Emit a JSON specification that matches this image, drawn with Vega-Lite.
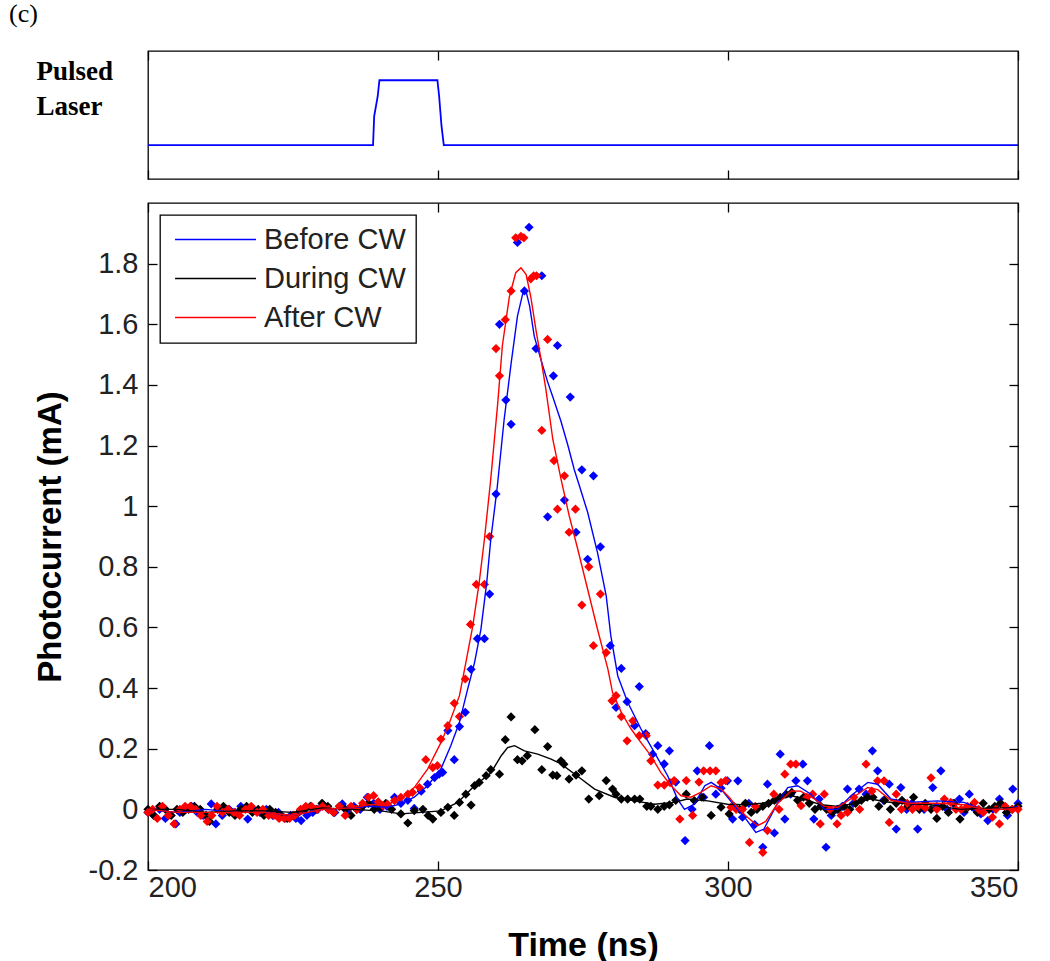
{
"$schema": "https://vega.github.io/schema/vega-lite/v6.json",
"padding": {"left": 8, "top": 0, "right": 10, "bottom": 5},
"background": "white",
"config": {
  "view": {"stroke": "#000", "strokeWidth": 1.3},
  "font": "Liberation Sans",
  "axis": {"domainColor": "#000", "domainWidth": 1.3, "tickColor": "#000", "tickWidth": 1.3, "labelColor": "#222", "labelFont": "Liberation Sans", "labelFontSize": 29, "titleColor": "#000", "grid": false},
  "legend": {"strokeWidth": 1.3}
},
"spacing": 20,
"datasets": {
"pulse": [{"t":200,"v":0},{"t":238.8,"v":0},{"t":239.0,"v":0.45},{"t":239.6,"v":0.75},{"t":239.9,"v":1},{"t":249.9,"v":1},{"t":250.2,"v":0.75},{"t":250.6,"v":0.3},{"t":251.0,"v":0},{"t":350,"v":0}],
"pts": [
{"s":"Before CW","t":200,"v":-0.01},{"s":"Before CW","t":201,"v":-0.02},{"s":"Before CW","t":202,"v":0.0},{"s":"Before CW","t":203,"v":-0.03},{"s":"Before CW","t":204.8,"v":-0.048},{"s":"Before CW","t":205.5,"v":-0.01},{"s":"Before CW","t":206.5,"v":0.0},{"s":"Before CW","t":207.5,"v":0.01},{"s":"Before CW","t":208.5,"v":-0.01},{"s":"Before CW","t":209.5,"v":-0.02},{"s":"Before CW","t":210.9,"v":0.018},{"s":"Before CW","t":211.7,"v":-0.048},{"s":"Before CW","t":212.8,"v":-0.02},{"s":"Before CW","t":214,"v":0.0},{"s":"Before CW","t":215,"v":-0.01},{"s":"Before CW","t":216,"v":0.01},{"s":"Before CW","t":217.2,"v":-0.032},{"s":"Before CW","t":218.2,"v":0.0},{"s":"Before CW","t":219.3,"v":-0.01},{"s":"Before CW","t":220.4,"v":0.0},{"s":"Before CW","t":221.5,"v":-0.02},{"s":"Before CW","t":222.5,"v":-0.01},{"s":"Before CW","t":223.6,"v":-0.03},{"s":"Before CW","t":224.6,"v":-0.02},{"s":"Before CW","t":225.5,"v":-0.03},{"s":"Before CW","t":226.4,"v":-0.037},{"s":"Before CW","t":227.4,"v":-0.02},{"s":"Before CW","t":228.4,"v":-0.01},{"s":"Before CW","t":229.3,"v":0.0},{"s":"Before CW","t":230.1,"v":0.018},{"s":"Before CW","t":231.1,"v":0.0},{"s":"Before CW","t":232.2,"v":-0.01},{"s":"Before CW","t":233.5,"v":0.018},{"s":"Before CW","t":234.5,"v":0.0},{"s":"Before CW","t":235.5,"v":0.01},{"s":"Before CW","t":236.6,"v":0.0},{"s":"Before CW","t":237.8,"v":0.04},{"s":"Before CW","t":238.9,"v":0.02},{"s":"Before CW","t":240,"v":0.0},{"s":"Before CW","t":241.2,"v":0.01},{"s":"Before CW","t":242.5,"v":0.04},{"s":"Before CW","t":243.6,"v":0.02},{"s":"Before CW","t":244.8,"v":0.03},{"s":"Before CW","t":245.9,"v":0.003},{"s":"Before CW","t":247.1,"v":0.06},{"s":"Before CW","t":248.2,"v":0.083},{"s":"Before CW","t":249.4,"v":0.105},{"s":"Before CW","t":250.2,"v":0.116},{"s":"Before CW","t":250.8,"v":0.122},{"s":"Before CW","t":251.7,"v":0.26},{"s":"Before CW","t":252.8,"v":0.164},{"s":"Before CW","t":253.7,"v":0.273},{"s":"Before CW","t":254.7,"v":0.32},{"s":"Before CW","t":255.7,"v":0.462},{"s":"Before CW","t":256.8,"v":0.563},{"s":"Before CW","t":258.0,"v":0.563},{"s":"Before CW","t":258.9,"v":0.71},{"s":"Before CW","t":260.0,"v":1.04},{"s":"Before CW","t":260.6,"v":1.6},{"s":"Before CW","t":261.7,"v":1.35},{"s":"Before CW","t":262.6,"v":1.27},{"s":"Before CW","t":263.7,"v":1.87},{"s":"Before CW","t":264.9,"v":1.71},{"s":"Before CW","t":265.7,"v":1.92},{"s":"Before CW","t":266.9,"v":1.52},{"s":"Before CW","t":267.9,"v":1.76},{"s":"Before CW","t":268.9,"v":0.965},{"s":"Before CW","t":269.9,"v":1.43},{"s":"Before CW","t":270.6,"v":1.53},{"s":"Before CW","t":271.8,"v":1.02},{"s":"Before CW","t":272.8,"v":1.36},{"s":"Before CW","t":273.8,"v":0.914},{"s":"Before CW","t":274.8,"v":1.12},{"s":"Before CW","t":275.8,"v":0.825},{"s":"Before CW","t":276.8,"v":1.10},{"s":"Before CW","t":278.0,"v":0.866},{"s":"Before CW","t":279.7,"v":0.54},{"s":"Before CW","t":280.7,"v":0.336},{"s":"Before CW","t":281.6,"v":0.465},{"s":"Before CW","t":282.6,"v":0.355},{"s":"Before CW","t":283.9,"v":0.276},{"s":"Before CW","t":284.7,"v":0.405},{"s":"Before CW","t":285.8,"v":0.25},{"s":"Before CW","t":287.0,"v":0.182},{"s":"Before CW","t":287.9,"v":0.21},{"s":"Before CW","t":289.0,"v":0.15},{"s":"Before CW","t":289.9,"v":0.193},{"s":"Before CW","t":291.0,"v":0.09},{"s":"Before CW","t":292.6,"v":-0.103},{"s":"Before CW","t":293.8,"v":0.0},{"s":"Before CW","t":294.7,"v":0.127},{"s":"Before CW","t":295.8,"v":0.04},{"s":"Before CW","t":296.8,"v":0.21},{"s":"Before CW","t":297.9,"v":0.05},{"s":"Before CW","t":298.8,"v":0.07},{"s":"Before CW","t":299.9,"v":0.094},{"s":"Before CW","t":300.8,"v":-0.032},{"s":"Before CW","t":301.7,"v":0.094},{"s":"Before CW","t":302.5,"v":-0.026},{"s":"Before CW","t":303.6,"v":0.02},{"s":"Before CW","t":304.6,"v":-0.05},{"s":"Before CW","t":306.0,"v":-0.125},{"s":"Before CW","t":306.8,"v":0.083},{"s":"Before CW","t":308.0,"v":-0.078},{"s":"Before CW","t":309.0,"v":0.182},{"s":"Before CW","t":309.8,"v":-0.032},{"s":"Before CW","t":310.8,"v":0.05},{"s":"Before CW","t":311.7,"v":0.094},{"s":"Before CW","t":312.9,"v":0.149},{"s":"Before CW","t":313.7,"v":0.094},{"s":"Before CW","t":314.8,"v":-0.032},{"s":"Before CW","t":315.7,"v":0.034},{"s":"Before CW","t":316.9,"v":-0.125},{"s":"Before CW","t":317.8,"v":-0.02},{"s":"Before CW","t":318.8,"v":0.0},{"s":"Before CW","t":319.7,"v":0.01},{"s":"Before CW","t":320.6,"v":0.067},{"s":"Before CW","t":321.6,"v":0.02},{"s":"Before CW","t":322.6,"v":0.067},{"s":"Before CW","t":323.8,"v":0.05},{"s":"Before CW","t":324.9,"v":0.193},{"s":"Before CW","t":325.8,"v":0.127},{"s":"Before CW","t":326.8,"v":0.03},{"s":"Before CW","t":327.8,"v":0.083},{"s":"Before CW","t":329.0,"v":-0.065},{"s":"Before CW","t":329.8,"v":0.072},{"s":"Before CW","t":330.8,"v":0.0},{"s":"Before CW","t":331.7,"v":0.02},{"s":"Before CW","t":332.7,"v":-0.065},{"s":"Before CW","t":333.8,"v":0.0},{"s":"Before CW","t":335.3,"v":0.072},{"s":"Before CW","t":336.0,"v":0.01},{"s":"Before CW","t":336.7,"v":0.127},{"s":"Before CW","t":337.8,"v":0.0},{"s":"Before CW","t":338.8,"v":0.02},{"s":"Before CW","t":339.9,"v":0.034},{"s":"Before CW","t":340.7,"v":-0.01},{"s":"Before CW","t":341.6,"v":0.05},{"s":"Before CW","t":342.6,"v":0.0},{"s":"Before CW","t":343.6,"v":-0.015},{"s":"Before CW","t":344.8,"v":-0.037},{"s":"Before CW","t":345.7,"v":0.0},{"s":"Before CW","t":346.8,"v":0.034},{"s":"Before CW","t":348.2,"v":-0.02},{"s":"Before CW","t":349.1,"v":0.067},{"s":"Before CW","t":350,"v":0.02},
{"s":"During CW","t":200,"v":0.0},{"s":"During CW","t":201,"v":-0.02},{"s":"During CW","t":202,"v":0.01},{"s":"During CW","t":203,"v":0.0},{"s":"During CW","t":204,"v":-0.02},{"s":"During CW","t":205,"v":0.0},{"s":"During CW","t":206,"v":-0.01},{"s":"During CW","t":207,"v":0.0},{"s":"During CW","t":208,"v":0.01},{"s":"During CW","t":209,"v":0.0},{"s":"During CW","t":210,"v":-0.02},{"s":"During CW","t":210.6,"v":-0.04},{"s":"During CW","t":212,"v":0.0},{"s":"During CW","t":213,"v":0.01},{"s":"During CW","t":214,"v":-0.01},{"s":"During CW","t":215,"v":-0.02},{"s":"During CW","t":216,"v":0.0},{"s":"During CW","t":217,"v":0.01},{"s":"During CW","t":218,"v":-0.01},{"s":"During CW","t":219,"v":0.0},{"s":"During CW","t":220,"v":-0.02},{"s":"During CW","t":221,"v":0.0},{"s":"During CW","t":222,"v":-0.01},{"s":"During CW","t":223,"v":-0.02},{"s":"During CW","t":224,"v":-0.03},{"s":"During CW","t":225,"v":-0.02},{"s":"During CW","t":226,"v":-0.01},{"s":"During CW","t":227,"v":0.0},{"s":"During CW","t":228,"v":0.01},{"s":"During CW","t":229,"v":0.0},{"s":"During CW","t":230,"v":0.02},{"s":"During CW","t":231,"v":0.01},{"s":"During CW","t":232,"v":-0.01},{"s":"During CW","t":233,"v":0.01},{"s":"During CW","t":234,"v":0.0},{"s":"During CW","t":235,"v":-0.02},{"s":"During CW","t":236,"v":0.0},{"s":"During CW","t":237,"v":0.01},{"s":"During CW","t":238,"v":0.02},{"s":"During CW","t":239,"v":0.0},{"s":"During CW","t":240,"v":0.01},{"s":"During CW","t":241,"v":0.02},{"s":"During CW","t":242,"v":0.0},{"s":"During CW","t":243.6,"v":-0.015},{"s":"During CW","t":244.8,"v":-0.045},{"s":"During CW","t":245.9,"v":-0.004},{"s":"During CW","t":247.4,"v":0.0},{"s":"During CW","t":248.3,"v":-0.02},{"s":"During CW","t":249.1,"v":-0.032},{"s":"During CW","t":250.5,"v":-0.01},{"s":"During CW","t":251.7,"v":0.007},{"s":"During CW","t":252.8,"v":-0.02},{"s":"During CW","t":253.7,"v":0.023},{"s":"During CW","t":254.8,"v":0.05},{"s":"During CW","t":255.7,"v":0.014},{"s":"During CW","t":256.3,"v":0.078},{"s":"During CW","t":257.1,"v":0.089},{"s":"During CW","t":258.3,"v":0.111},{"s":"During CW","t":259.1,"v":0.131},{"s":"During CW","t":260.6,"v":0.116},{"s":"During CW","t":261.6,"v":0.23},{"s":"During CW","t":262.6,"v":0.305},{"s":"During CW","t":263.7,"v":0.164},{"s":"During CW","t":264.5,"v":0.16},{"s":"During CW","t":265.4,"v":0.177},{"s":"During CW","t":266.7,"v":0.263},{"s":"During CW","t":267.9,"v":0.131},{"s":"During CW","t":268.9,"v":0.207},{"s":"During CW","t":269.8,"v":0.113},{"s":"During CW","t":270.5,"v":0.111},{"s":"During CW","t":271.2,"v":0.16},{"s":"During CW","t":271.7,"v":0.149},{"s":"During CW","t":272.6,"v":0.1},{"s":"During CW","t":273.8,"v":0.113},{"s":"During CW","t":274.8,"v":0.127},{"s":"During CW","t":276.0,"v":0.034},{"s":"During CW","t":277.8,"v":0.045},{"s":"During CW","t":279.0,"v":0.095},{"s":"During CW","t":280.1,"v":0.067},{"s":"During CW","t":280.7,"v":0.05},{"s":"During CW","t":281.6,"v":0.034},{"s":"During CW","t":282.7,"v":0.034},{"s":"During CW","t":283.9,"v":0.034},{"s":"During CW","t":284.8,"v":0.034},{"s":"During CW","t":286.0,"v":0.01},{"s":"During CW","t":286.7,"v":0.01},{"s":"During CW","t":287.9,"v":0.0},{"s":"During CW","t":289.0,"v":0.01},{"s":"During CW","t":289.9,"v":0.015},{"s":"During CW","t":291.0,"v":0.03},{"s":"During CW","t":292.8,"v":0.05},{"s":"During CW","t":294.2,"v":0.029},{"s":"During CW","t":295.5,"v":0.04},{"s":"During CW","t":297.1,"v":-0.02},{"s":"During CW","t":298.8,"v":0.007},{"s":"During CW","t":300.2,"v":-0.015},{"s":"During CW","t":301,"v":0.01},{"s":"During CW","t":302,"v":0.0},{"s":"During CW","t":303,"v":0.02},{"s":"During CW","t":304,"v":-0.01},{"s":"During CW","t":305,"v":0.0},{"s":"During CW","t":306,"v":0.01},{"s":"During CW","t":307,"v":0.02},{"s":"During CW","t":308,"v":0.03},{"s":"During CW","t":309,"v":0.04},{"s":"During CW","t":310,"v":0.05},{"s":"During CW","t":311,"v":0.056},{"s":"During CW","t":312,"v":0.03},{"s":"During CW","t":313,"v":0.04},{"s":"During CW","t":314,"v":0.02},{"s":"During CW","t":315,"v":0.0},{"s":"During CW","t":316,"v":0.01},{"s":"During CW","t":317,"v":0.0},{"s":"During CW","t":318,"v":-0.01},{"s":"During CW","t":319,"v":0.0},{"s":"During CW","t":320,"v":0.01},{"s":"During CW","t":321,"v":0.0},{"s":"During CW","t":322,"v":0.02},{"s":"During CW","t":323,"v":0.03},{"s":"During CW","t":324,"v":0.04},{"s":"During CW","t":325,"v":0.04},{"s":"During CW","t":326,"v":0.01},{"s":"During CW","t":327,"v":0.03},{"s":"During CW","t":328,"v":0.0},{"s":"During CW","t":329,"v":0.02},{"s":"During CW","t":330,"v":0.03},{"s":"During CW","t":331,"v":0.01},{"s":"During CW","t":332,"v":0.04},{"s":"During CW","t":333,"v":0.0},{"s":"During CW","t":334,"v":0.02},{"s":"During CW","t":335,"v":0.0},{"s":"During CW","t":336,"v":-0.03},{"s":"During CW","t":337,"v":0.01},{"s":"During CW","t":338,"v":-0.01},{"s":"During CW","t":339,"v":0.02},{"s":"During CW","t":340,"v":-0.032},{"s":"During CW","t":341,"v":0.0},{"s":"During CW","t":342,"v":0.01},{"s":"During CW","t":343,"v":-0.01},{"s":"During CW","t":344,"v":0.02},{"s":"During CW","t":345,"v":0.0},{"s":"During CW","t":346,"v":0.01},{"s":"During CW","t":347,"v":0.02},{"s":"During CW","t":348,"v":-0.01},{"s":"During CW","t":349,"v":0.0},{"s":"During CW","t":350,"v":0.01},
{"s":"After CW","t":200,"v":-0.01},{"s":"After CW","t":200.8,"v":0.0},{"s":"After CW","t":201.6,"v":-0.03},{"s":"After CW","t":202.5,"v":0.01},{"s":"After CW","t":203.5,"v":-0.02},{"s":"After CW","t":204.5,"v":-0.048},{"s":"After CW","t":205.5,"v":0.0},{"s":"After CW","t":206.4,"v":0.01},{"s":"After CW","t":207.3,"v":0.01},{"s":"After CW","t":208.2,"v":0.0},{"s":"After CW","t":209.1,"v":-0.02},{"s":"After CW","t":210.2,"v":-0.04},{"s":"After CW","t":211.0,"v":-0.02},{"s":"After CW","t":211.9,"v":0.01},{"s":"After CW","t":212.8,"v":-0.01},{"s":"After CW","t":213.8,"v":0.0},{"s":"After CW","t":214.8,"v":-0.01},{"s":"After CW","t":215.8,"v":-0.02},{"s":"After CW","t":216.8,"v":0.0},{"s":"After CW","t":217.8,"v":0.01},{"s":"After CW","t":218.8,"v":-0.01},{"s":"After CW","t":219.8,"v":0.0},{"s":"After CW","t":220.8,"v":-0.02},{"s":"After CW","t":221.7,"v":-0.02},{"s":"After CW","t":222.6,"v":-0.03},{"s":"After CW","t":223.5,"v":-0.03},{"s":"After CW","t":224.4,"v":-0.03},{"s":"After CW","t":225.3,"v":-0.02},{"s":"After CW","t":226.3,"v":0.0},{"s":"After CW","t":227.2,"v":0.01},{"s":"After CW","t":228.2,"v":0.01},{"s":"After CW","t":229.2,"v":0.0},{"s":"After CW","t":230.1,"v":0.01},{"s":"After CW","t":231.1,"v":0.0},{"s":"After CW","t":232.0,"v":-0.01},{"s":"After CW","t":233.0,"v":0.01},{"s":"After CW","t":234.0,"v":-0.02},{"s":"After CW","t":235.0,"v":0.01},{"s":"After CW","t":236.0,"v":0.0},{"s":"After CW","t":237.0,"v":0.02},{"s":"After CW","t":238.0,"v":0.04},{"s":"After CW","t":238.9,"v":0.045},{"s":"After CW","t":239.7,"v":0.025},{"s":"After CW","t":240.5,"v":0.012},{"s":"After CW","t":241.3,"v":0.017},{"s":"After CW","t":242.5,"v":0.029},{"s":"After CW","t":243.6,"v":0.04},{"s":"After CW","t":244.8,"v":0.05},{"s":"After CW","t":245.6,"v":0.056},{"s":"After CW","t":246.8,"v":0.072},{"s":"After CW","t":247.9,"v":0.164},{"s":"After CW","t":249.1,"v":0.138},{"s":"After CW","t":249.9,"v":0.144},{"s":"After CW","t":250.5,"v":0.232},{"s":"After CW","t":251.7,"v":0.276},{"s":"After CW","t":252.8,"v":0.35},{"s":"After CW","t":253.7,"v":0.306},{"s":"After CW","t":254.7,"v":0.43},{"s":"After CW","t":255.6,"v":0.61},{"s":"After CW","t":256.6,"v":0.742},{"s":"After CW","t":258.0,"v":0.742},{"s":"After CW","t":258.9,"v":0.90},{"s":"After CW","t":260.0,"v":1.52},{"s":"After CW","t":260.6,"v":1.43},{"s":"After CW","t":261.6,"v":1.615},{"s":"After CW","t":262.6,"v":1.71},{"s":"After CW","t":263.4,"v":1.885},{"s":"After CW","t":264.3,"v":1.89},{"s":"After CW","t":264.8,"v":1.885},{"s":"After CW","t":266.0,"v":1.75},{"s":"After CW","t":266.5,"v":1.76},{"s":"After CW","t":267.0,"v":1.76},{"s":"After CW","t":267.9,"v":1.25},{"s":"After CW","t":268.9,"v":1.55},{"s":"After CW","t":270.0,"v":1.15},{"s":"After CW","t":270.6,"v":0.99},{"s":"After CW","t":271.8,"v":1.10},{"s":"After CW","t":272.6,"v":0.914},{"s":"After CW","t":273.7,"v":0.99},{"s":"After CW","t":274.8,"v":0.674},{"s":"After CW","t":276.0,"v":0.80},{"s":"After CW","t":276.8,"v":0.54},{"s":"After CW","t":278.0,"v":0.71},{"s":"After CW","t":279.0,"v":0.517},{"s":"After CW","t":280.0,"v":0.358},{"s":"After CW","t":280.7,"v":0.375},{"s":"After CW","t":281.6,"v":0.306},{"s":"After CW","t":282.6,"v":0.226},{"s":"After CW","t":283.6,"v":0.292},{"s":"After CW","t":284.7,"v":0.243},{"s":"After CW","t":285.9,"v":0.243},{"s":"After CW","t":286.7,"v":0.16},{"s":"After CW","t":287.9,"v":0.08},{"s":"After CW","t":289.0,"v":0.08},{"s":"After CW","t":290.0,"v":0.088},{"s":"After CW","t":290.7,"v":0.095},{"s":"After CW","t":291.7,"v":-0.032},{"s":"After CW","t":292.8,"v":0.095},{"s":"After CW","t":293.9,"v":-0.02},{"s":"After CW","t":295.0,"v":0.09},{"s":"After CW","t":295.8,"v":0.127},{"s":"After CW","t":296.9,"v":0.127},{"s":"After CW","t":297.9,"v":0.127},{"s":"After CW","t":298.8,"v":0.089},{"s":"After CW","t":299.6,"v":0.095},{"s":"After CW","t":300.5,"v":0.007},{"s":"After CW","t":301.4,"v":0.0},{"s":"After CW","t":302.5,"v":0.0},{"s":"After CW","t":303.7,"v":-0.109},{"s":"After CW","t":304.7,"v":0.01},{"s":"After CW","t":306.0,"v":-0.142},{"s":"After CW","t":306.8,"v":-0.07},{"s":"After CW","t":307.9,"v":0.05},{"s":"After CW","t":308.8,"v":0.0},{"s":"After CW","t":309.8,"v":0.116},{"s":"After CW","t":310.8,"v":0.149},{"s":"After CW","t":311.7,"v":0.149},{"s":"After CW","t":312.6,"v":0.012},{"s":"After CW","t":313.6,"v":0.04},{"s":"After CW","t":314.6,"v":0.05},{"s":"After CW","t":315.9,"v":-0.048},{"s":"After CW","t":316.6,"v":0.05},{"s":"After CW","t":317.6,"v":0.0},{"s":"After CW","t":318.8,"v":-0.048},{"s":"After CW","t":319.5,"v":-0.02},{"s":"After CW","t":320.6,"v":-0.01},{"s":"After CW","t":321.7,"v":0.04},{"s":"After CW","t":322.7,"v":0.0},{"s":"After CW","t":323.8,"v":0.149},{"s":"After CW","t":324.8,"v":0.06},{"s":"After CW","t":325.8,"v":0.094},{"s":"After CW","t":326.9,"v":0.094},{"s":"After CW","t":327.8,"v":-0.043},{"s":"After CW","t":329.0,"v":0.05},{"s":"After CW","t":329.9,"v":0.0},{"s":"After CW","t":330.9,"v":0.02},{"s":"After CW","t":331.8,"v":0.0},{"s":"After CW","t":332.8,"v":0.01},{"s":"After CW","t":334.0,"v":0.005},{"s":"After CW","t":335.0,"v":0.104},{"s":"After CW","t":336.0,"v":0.0},{"s":"After CW","t":337.3,"v":0.034},{"s":"After CW","t":338.4,"v":0.023},{"s":"After CW","t":339.3,"v":0.0},{"s":"After CW","t":340.2,"v":0.0},{"s":"After CW","t":341.3,"v":0.01},{"s":"After CW","t":342.5,"v":0.023},{"s":"After CW","t":343.2,"v":0.0},{"s":"After CW","t":344.0,"v":-0.01},{"s":"After CW","t":345.6,"v":-0.026},{"s":"After CW","t":346.2,"v":0.0},{"s":"After CW","t":346.8,"v":-0.048},{"s":"After CW","t":347.8,"v":0.01},{"s":"After CW","t":349.0,"v":0.0},{"s":"After CW","t":350,"v":0.0}
],
"fit": [
{"s":"Before CW","t":200,"v":0.0},{"s":"Before CW","t":205,"v":-0.01},{"s":"Before CW","t":210,"v":0.0},{"s":"Before CW","t":215,"v":-0.01},{"s":"Before CW","t":220,"v":-0.01},{"s":"Before CW","t":225,"v":-0.02},{"s":"Before CW","t":230,"v":0.0},{"s":"Before CW","t":235,"v":0.005},{"s":"Before CW","t":238,"v":0.01},{"s":"Before CW","t":241.3,"v":0.007},{"s":"Before CW","t":243.6,"v":0.018},{"s":"Before CW","t":245.9,"v":0.04},{"s":"Before CW","t":248.2,"v":0.078},{"s":"Before CW","t":250.5,"v":0.133},{"s":"Before CW","t":252.2,"v":0.21},{"s":"Before CW","t":253.7,"v":0.287},{"s":"Before CW","t":255.1,"v":0.396},{"s":"Before CW","t":256.3,"v":0.484},{"s":"Before CW","t":257.4,"v":0.594},{"s":"Before CW","t":258.4,"v":0.748},{"s":"Before CW","t":259.1,"v":0.89},{"s":"Before CW","t":260.2,"v":1.06},{"s":"Before CW","t":261.4,"v":1.285},{"s":"Before CW","t":262.6,"v":1.47},{"s":"Before CW","t":263.7,"v":1.627},{"s":"Before CW","t":264.6,"v":1.70},{"s":"Before CW","t":265.1,"v":1.715},{"s":"Before CW","t":265.8,"v":1.66},{"s":"Before CW","t":266.6,"v":1.56},{"s":"Before CW","t":267.8,"v":1.48},{"s":"Before CW","t":268.9,"v":1.41},{"s":"Before CW","t":269.8,"v":1.36},{"s":"Before CW","t":271.2,"v":1.28},{"s":"Before CW","t":272.4,"v":1.2},{"s":"Before CW","t":273.5,"v":1.12},{"s":"Before CW","t":274.5,"v":1.06},{"s":"Before CW","t":275.8,"v":0.98},{"s":"Before CW","t":277.5,"v":0.847},{"s":"Before CW","t":279,"v":0.704},{"s":"Before CW","t":279.8,"v":0.572},{"s":"Before CW","t":281,"v":0.44},{"s":"Before CW","t":282.7,"v":0.353},{"s":"Before CW","t":285,"v":0.265},{"s":"Before CW","t":287.3,"v":0.188},{"s":"Before CW","t":289.6,"v":0.111},{"s":"Before CW","t":291.3,"v":0.034},{"s":"Before CW","t":292.5,"v":0.0},{"s":"Before CW","t":294.2,"v":0.017},{"s":"Before CW","t":296,"v":0.078},{"s":"Before CW","t":297.1,"v":0.089},{"s":"Before CW","t":298.8,"v":0.067},{"s":"Before CW","t":300.2,"v":0.034},{"s":"Before CW","t":301.1,"v":0.012},{"s":"Before CW","t":303.1,"v":-0.032},{"s":"Before CW","t":304.8,"v":-0.076},{"s":"Before CW","t":306.2,"v":-0.065},{"s":"Before CW","t":308.6,"v":0.023},{"s":"Before CW","t":310.3,"v":0.072},{"s":"Before CW","t":312,"v":0.078},{"s":"Before CW","t":314.3,"v":0.05},{"s":"Before CW","t":316.6,"v":0.0},{"s":"Before CW","t":318.9,"v":0.0},{"s":"Before CW","t":321.2,"v":0.045},{"s":"Before CW","t":324.1,"v":0.089},{"s":"Before CW","t":325.8,"v":0.083},{"s":"Before CW","t":328.1,"v":0.034},{"s":"Before CW","t":331,"v":0.023},{"s":"Before CW","t":336.1,"v":0.028},{"s":"Before CW","t":340.7,"v":0.023},{"s":"Before CW","t":343.6,"v":0.0},{"s":"Before CW","t":347.6,"v":0.0},{"s":"Before CW","t":350,"v":0.01},
{"s":"During CW","t":200,"v":0.0},{"s":"During CW","t":205,"v":0.0},{"s":"During CW","t":210,"v":-0.01},{"s":"During CW","t":215,"v":-0.005},{"s":"During CW","t":220,"v":-0.005},{"s":"During CW","t":225,"v":-0.01},{"s":"During CW","t":230,"v":0.005},{"s":"During CW","t":235,"v":0.0},{"s":"During CW","t":240.2,"v":-0.005},{"s":"During CW","t":243.6,"v":-0.015},{"s":"During CW","t":247.1,"v":-0.01},{"s":"During CW","t":250.5,"v":-0.005},{"s":"During CW","t":253.4,"v":0.023},{"s":"During CW","t":256.3,"v":0.078},{"s":"During CW","t":259.1,"v":0.12},{"s":"During CW","t":260.9,"v":0.177},{"s":"During CW","t":262,"v":0.204},{"s":"During CW","t":263.2,"v":0.21},{"s":"During CW","t":264.9,"v":0.193},{"s":"During CW","t":267.2,"v":0.182},{"s":"During CW","t":269.5,"v":0.166},{"s":"During CW","t":271.2,"v":0.15},{"s":"During CW","t":274.7,"v":0.1},{"s":"During CW","t":277,"v":0.067},{"s":"During CW","t":280.4,"v":0.04},{"s":"During CW","t":283.9,"v":0.028},{"s":"During CW","t":287.3,"v":0.017},{"s":"During CW","t":290.7,"v":0.023},{"s":"During CW","t":293,"v":0.034},{"s":"During CW","t":296.5,"v":0.028},{"s":"During CW","t":299.9,"v":0.017},{"s":"During CW","t":303,"v":0.015},{"s":"During CW","t":306,"v":0.02},{"s":"During CW","t":309,"v":0.035},{"s":"During CW","t":311,"v":0.045},{"s":"During CW","t":313,"v":0.035},{"s":"During CW","t":316,"v":0.015},{"s":"During CW","t":319,"v":0.01},{"s":"During CW","t":322,"v":0.02},{"s":"During CW","t":324.5,"v":0.035},{"s":"During CW","t":327,"v":0.025},{"s":"During CW","t":330,"v":0.02},{"s":"During CW","t":335,"v":0.015},{"s":"During CW","t":340,"v":0.0},{"s":"During CW","t":345,"v":0.005},{"s":"During CW","t":350,"v":0.005},
{"s":"After CW","t":200,"v":0.0},{"s":"After CW","t":205,"v":-0.01},{"s":"After CW","t":210,"v":-0.01},{"s":"After CW","t":215,"v":-0.01},{"s":"After CW","t":220,"v":-0.01},{"s":"After CW","t":225,"v":-0.02},{"s":"After CW","t":230,"v":0.0},{"s":"After CW","t":235,"v":0.005},{"s":"After CW","t":238,"v":0.015},{"s":"After CW","t":241.3,"v":0.017},{"s":"After CW","t":243.6,"v":0.034},{"s":"After CW","t":245.9,"v":0.072},{"s":"After CW","t":248.2,"v":0.133},{"s":"After CW","t":250.5,"v":0.22},{"s":"After CW","t":252,"v":0.287},{"s":"After CW","t":253.7,"v":0.375},{"s":"After CW","t":254.8,"v":0.484},{"s":"After CW","t":256,"v":0.605},{"s":"After CW","t":257.1,"v":0.748},{"s":"After CW","t":258,"v":0.89},{"s":"After CW","t":259.1,"v":1.09},{"s":"After CW","t":260.3,"v":1.34},{"s":"After CW","t":261.1,"v":1.53},{"s":"After CW","t":262.3,"v":1.69},{"s":"After CW","t":263.4,"v":1.77},{"s":"After CW","t":264.3,"v":1.786},{"s":"After CW","t":265.2,"v":1.764},{"s":"After CW","t":266,"v":1.69},{"s":"After CW","t":266.9,"v":1.58},{"s":"After CW","t":267.8,"v":1.48},{"s":"After CW","t":268.6,"v":1.385},{"s":"After CW","t":269.8,"v":1.22},{"s":"After CW","t":271.2,"v":1.09},{"s":"After CW","t":272.6,"v":0.97},{"s":"After CW","t":274.1,"v":0.858},{"s":"After CW","t":275.8,"v":0.726},{"s":"After CW","t":277.5,"v":0.594},{"s":"After CW","t":279.3,"v":0.462},{"s":"After CW","t":280.1,"v":0.385},{"s":"After CW","t":281.6,"v":0.32},{"s":"After CW","t":283.3,"v":0.265},{"s":"After CW","t":285,"v":0.22},{"s":"After CW","t":286.7,"v":0.177},{"s":"After CW","t":288.4,"v":0.122},{"s":"After CW","t":290.2,"v":0.078},{"s":"After CW","t":291.9,"v":0.045},{"s":"After CW","t":293.6,"v":0.04},{"s":"After CW","t":295.3,"v":0.056},{"s":"After CW","t":297.1,"v":0.078},{"s":"After CW","t":298.8,"v":0.067},{"s":"After CW","t":300.2,"v":0.04},{"s":"After CW","t":301.5,"v":0.01},{"s":"After CW","t":303,"v":-0.02},{"s":"After CW","t":305.1,"v":-0.054},{"s":"After CW","t":306.5,"v":-0.04},{"s":"After CW","t":308.6,"v":0.02},{"s":"After CW","t":310.9,"v":0.061},{"s":"After CW","t":312.5,"v":0.06},{"s":"After CW","t":314.5,"v":0.04},{"s":"After CW","t":316.6,"v":0.01},{"s":"After CW","t":318.9,"v":0.007},{"s":"After CW","t":321.2,"v":0.035},{"s":"After CW","t":324.1,"v":0.072},{"s":"After CW","t":325.8,"v":0.065},{"s":"After CW","t":328.1,"v":0.03},{"s":"After CW","t":331,"v":0.02},{"s":"After CW","t":336,"v":0.02},{"s":"After CW","t":340.7,"v":0.015},{"s":"After CW","t":344,"v":0.0},{"s":"After CW","t":347.6,"v":0.0},{"s":"After CW","t":350,"v":0.005}
]
},
"vconcat": [
 {
  "width": 870, "height": 128,
  "title": {"text": "(c)", "anchor": "start", "frame": "group", "dx": -139, "offset": 2, "baseline": "alphabetic", "font": "Liberation Serif", "fontSize": 26, "fontWeight": "normal", "color": "#000"},
  "data": {"name": "pulse"},
  "layer": [
   {"mark": {"type": "line", "color": "#0000ff", "strokeWidth": 1.8},
    "encoding": {
     "x": {"field": "t", "type": "quantitative", "scale": {"domain": [200, 350], "nice": false, "zero": false},
           "axis": {"orient": "bottom", "values": [200, 250, 300, 350], "labels": false, "title": null, "tickSize": -9, "domain": false}},
     "y": {"field": "v", "type": "quantitative", "scale": {"domain": [-0.52, 1.45], "nice": false, "zero": false},
           "axis": {"orient": "left", "ticks": false, "labels": false, "domain": false, "title": ["Pulsed", "Laser"], "titleAngle": 0, "titleAlign": "left", "titleBaseline": "alphabetic", "titleX": -112, "titleY": 28, "titleFont": "Liberation Serif", "titleFontSize": 27, "titleFontWeight": "bold", "titleLineHeight": 35, "titleColor": "#000"}}}},
   {"mark": {"type": "line", "opacity": 0},
    "encoding": {
     "x": {"field": "t", "type": "quantitative", "axis": {"orient": "top", "values": [200, 250, 300, 350], "labels": false, "title": null, "tickSize": -9, "domain": false}},
     "y": {"field": "v", "type": "quantitative", "axis": null}}}
  ],
  "resolve": {"axis": {"x": "independent", "y": "independent"}}
 },
 {
  "width": 870, "height": 667,
  "layer": [
   {"data": {"name": "pts"},
    "mark": {"type": "point", "shape": "diamond", "filled": true, "size": 85, "opacity": 1},
    "encoding": {
     "x": {"field": "t", "type": "quantitative", "scale": {"domain": [200, 350], "nice": false, "zero": false},
           "axis": {"orient": "bottom", "values": [200, 250, 300, 350], "tickSize": -9, "labelPadding": 12, "domain": false, "title": "Time (ns)", "titleFontSize": 34, "titleFontWeight": "bold", "titlePadding": 26}},
     "y": {"field": "v", "type": "quantitative", "scale": {"domain": [-0.2, 2.0], "nice": false, "zero": false},
           "axis": {"orient": "left", "values": [-0.2, 0, 0.2, 0.4, 0.6, 0.8, 1, 1.2, 1.4, 1.6, 1.8], "format": "~g", "labelExpr": "replace(datum.label, '\u2212', '-')", "tickSize": -9, "labelPadding": 19, "domain": false, "title": "Photocurrent (mA)", "titleFontSize": 33, "titleFontWeight": "bold", "titlePadding": 21}},
     "color": {"field": "s", "type": "nominal", "scale": {"domain": ["Before CW", "During CW", "After CW"], "range": ["#0000ff", "#000000", "#ff0000"]}, "legend": null}}},
   {"data": {"name": "fit"},
    "mark": {"type": "line", "strokeWidth": 1.4},
    "encoding": {
     "x": {"field": "t", "type": "quantitative", "axis": {"orient": "top", "values": [200, 250, 300, 350], "labels": false, "title": null, "tickSize": -9, "domain": false}},
     "y": {"field": "v", "type": "quantitative", "axis": {"orient": "right", "values": [-0.2, 0, 0.2, 0.4, 0.6, 0.8, 1, 1.2, 1.4, 1.6, 1.8], "labels": false, "title": null, "tickSize": -9, "domain": false}},
     "color": {"field": "s", "type": "nominal", "scale": {"domain": ["Before CW", "During CW", "After CW"], "range": ["#0000ff", "#000000", "#ff0000"]},
       "legend": {"orient": "top-left", "offset": 12, "title": null, "strokeColor": "#000", "fillColor": "#fff", "padding": 10, "labelFont": "Liberation Sans", "labelFontSize": 29, "labelColor": "#222", "labelExpr": "datum.label + '\u00a0\u00a0'", "symbolType": "M-0.7,0H5.3", "symbolSize": 729, "symbolStrokeWidth": 1.3, "labelOffset": 65, "rowPadding": 9, "cornerRadius": 0}}}}
  ],
  "resolve": {"axis": {"x": "independent", "y": "independent"}, "legend": {"color": "independent"}}
 }
]
}
